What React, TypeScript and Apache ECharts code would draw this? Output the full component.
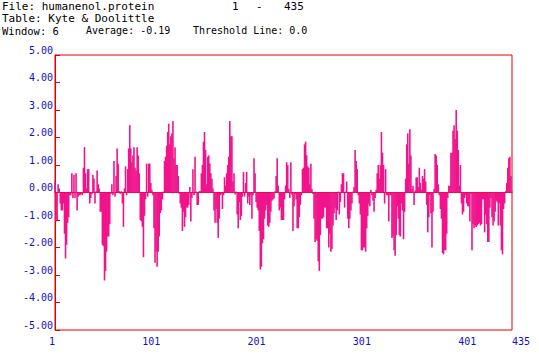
import React, { useEffect, useRef } from "react";
import * as echarts from "echarts";

// Kyte & Doolittle hydropathy, window 6, residues 1..435
const seg1 = [0.4, -1.05, -1.0, 0.3, 0.15, -0.4, -0.65, -0.65, -0.4, -1.5, -2.4, -1.9, -1.1, -0.9, -0.1, -0.1, 0.7, -0.2, 0.65, -0.2, 0.7, -0.65, -0.15, -0.1, -0.1, -0.05, -0.1, 0.9, 1.65, 0.7, 0.15, 0.85, 0.85, -0.4, -0.2, -0.05];
const seg2 = [0.65, 0.5, -0.4, 0.05, 0.8, 0.3, 0.15, -0.7, -0.7, -1.9, -1.95, -3.2, -2.85, -2.15, -1.6, -1.6, -1.15, -0.05, 0.3, -0.1, 1.15, -0.15, 0.6, 1.6, 1.05, 0.05, -0.05, 0.05, -0.4, -1.25, 0.15, 0.95, -0.1, 0.85, 1.6, 2.45, 1.6];
const seg3 = [1.1, 1.35, 1.65, 0.9, 0.8, 1.65, 1.35, 0.7, -1.0, -1.05, -1.25, -2.35, -0.85, -0.25, 1.05, -0.15, 1.05, 1.05, 0.35, 0.1, -0.1, -1.3, -2.55, -2.15, -2.7, -2.15, -1.6, -0.75, -0.65, -0.25, 0.0, 1.15, 1.3, 1.7, 2.2, 2.5, 1.75];
const seg4 = [2.05, 2.15, 2.6, 1.25, 1.65, 1.0, 1.0, 0.6, -0.05, -0.4, -0.55, -1.4, -0.7, -1.25, -0.9, -0.55, -0.55, -0.45, 0.2, -1.05, -0.2, 0.85, -0.1, 1.3, 0.0, -0.45, -0.45, 0.05, 0.05, 0.7, 1.0, 1.85, 2.2, 1.55, 0.3, 1.3, 1.35];
const seg5 = [1.05, 0.7, 0.5, 0.15, -0.65, -1.1, -0.6, -1.1, -1.65, -0.95, -0.1, -0.07, -0.6, -0.1, 0.55, 0.25, 0.7, 1.0, 1.3, 2.6, 2.05, 2.05, 0.4, 0.7, -0.07, 0.0, -0.8, -1.3, -0.35, -1.0, -0.85, -0.15, 0.75, -0.15, 0.35, 0.75, -0.4];
const seg6 = [-0.15, -0.45, -0.1, -0.95, -0.1, 1.25, 0.7, -0.35, -0.55, -0.65, -1.4, -2.8, -2.7, -1.85, -1.7, -0.95, -0.65, -0.45, -1.2, -1.25, -1.1, -0.7, -0.3, -0.25, -0.22, 0.05, 0.6, 1.25, 0.25, -0.65, -0.55, -1.0, -1.0, -1.0, -0.25, 0.25, 1.1];
const seg7 = [1.0, 0.13, -0.2, 1.1, -0.08, -1.4, -0.5, -0.05, -0.25, -1.3, -1.3, -0.9, -0.45, -0.1, 0.85, 0.9, 1.75, 1.85, 1.35, 0.95, 0.9, 0.3, 1.05, 0.13, -0.05, -0.95, -1.8, -1.7, -1.75, -2.5, -2.85, -1.55, -0.95, -0.95, -0.9, -0.55, -0.55];
const seg8 = [-1.3, -1.3, -2.0, -1.5, -2.15, -2.05, -1.2, -0.75, -0.55, -1.0, -0.65, 0.03, -0.8, -0.35, 0.3, 0.7, 0.7, -0.55, 0.0, 0.4, -0.95, -1.3, -0.95, -0.65, -0.4, 0.0, 0.2, 1.55, 1.15, 0.85, -0.1, -0.4, -0.8, -2.1, -2.1, -2.0, -2.0];
const seg9 = [-2.15, -1.3, -0.85, -0.4, -0.5, 0.1, -0.1, -0.3, -0.7, -0.2, 0.1, 0.7, 1.0, 0.5, 1.0, 2.2, 1.45, 1.0, -0.4, 0.85, -0.1, -0.1, -1.05, -0.1, -0.1, -1.65, -1.6, -2.1, -2.3, -1.55, -0.5, -0.95, -1.55, -1.6, -0.4, -0.65, -1.7];
const seg10 = [-0.7, 0.5, 1.75, 2.15, 1.05, 2.3, 1.35, 0.13, 0.25, -0.45, 0.07, 0.55, 0.55, 0.2, 0.9, 0.35, 0.1, 0.6, 0.5, 0.85, 0.4, -0.45, -1.45, -0.9, -0.1, -0.75, -2.0, -0.7, 0.13, 1.4, 1.35, 1.0, 0.3, -0.1, -0.6, -0.95, -2.2];
const seg11 = [-2.25, -2.1, -2.1, -1.5, -0.2, 0.25, 0.25, 1.45, 1.45, 2.25, 2.45, 1.95, 3.0, 2.25, 1.55, 0.25, 1.0, -0.4, -0.8, -0.7, -0.2, -0.1, -0.4, -0.5, -0.5, -1.05, -0.05, -2.1, -1.15, -1.3, -1.2, -1.25, -1.2, -1.15, -1.1, -1.2, -1.15];
const seg12 = [-0.25, -0.25, -1.45, -0.8, -1.15, -1.8, -1.8, -0.55, -0.2, -0.9, -1.2, -1.05, -0.7, -0.3, -0.35, -1.2, -0.4, -1.2, -2.1, -2.25, -0.6, -0.4, 0.05, 0.35, 0.9, 1.25, 1.3, 0.6, 0.0];

const hydropathy = [...seg1, ...seg2, ...seg3, ...seg4, ...seg5, ...seg6, ...seg7, ...seg8, ...seg9, ...seg10, ...seg11, ...seg12];

const firstResidue = 1;
const lastResidue = 435;
const yMin = -5;
const yMax = 5;

const headerFile = "File: humanenol.protein";
const headerRangeStart = "1";
const headerRangeDash = "-";
const headerRangeEnd = "435";
const headerTable = "Table: Kyte & Doolittle";
const headerWindow = "Window: 6";
const headerAverage = "Average: -0.19";
const headerThreshold = "Threshold Line: 0.0";

export default function App() {
  const ref = useRef<HTMLDivElement>(null);
  useEffect(() => {
    if (!ref.current) return;
    const chart = echarts.init(ref.current, undefined, { renderer: "svg" });
    const barData = hydropathy.map((v, i) => [i, v]);
    const font = "DejaVu Sans Mono";
    const blue = "#1010d0";
    const red = "#e00000";
    const t = (text: string, left: number, top: number, size: number) => ({
      type: "text",
      left,
      top,
      style: { text, font: `${size}px ${font}`, fill: "#000" },
    });
    chart.setOption({
      animation: false,
      backgroundColor: "#ffffff",
      grid: {
        left: 55,
        top: 55,
        width: 457,
        height: 275,
        show: true,
        borderColor: red,
        borderWidth: 1,
        backgroundColor: "transparent",
      },
      xAxis: {
        type: "value",
        min: 0,
        max: lastResidue - firstResidue,
        interval: 100,
        axisLine: { show: true, lineStyle: { color: red, width: 1 } },
        axisTick: { show: false },
        splitLine: { show: false },
        axisLabel: {
          color: blue,
          fontFamily: font,
          fontSize: 10,
          margin: 6,
          showMinLabel: true,
          showMaxLabel: true,
          align: "right",
          alignMinLabel: "right",
          alignMaxLabel: "left",
          formatter: (v: number) => String(v + firstResidue),
        },
      },
      yAxis: {
        type: "value",
        min: yMin,
        max: yMax,
        interval: 1,
        axisLine: { show: true, lineStyle: { color: red, width: 1 } },
        axisTick: { show: true, inside: true, length: 5, lineStyle: { color: red } },
        splitLine: { show: false },
        axisLabel: {
          color: blue,
          fontFamily: font,
          fontSize: 10,
          margin: 2,
          verticalAlign: "bottom",
          formatter: (v: number) => v.toFixed(2),
        },
      },
      series: [
        {
          type: "bar",
          data: barData,
          barWidth: 1.6,
          barMinHeight: 1,
          itemStyle: { color: "#f0148c" },
          z: 2,
        },
      ],
      graphic: [
        t(headerFile, 2, 1, 11),
        t(headerRangeStart, 232, 1, 11),
        t(headerRangeDash, 256, 1, 11),
        t(headerRangeEnd, 284, 1, 11),
        t(headerTable, 2, 13, 11),
        t(headerWindow, 2, 25, 10.5),
        t(headerAverage, 86, 25, 10),
        t(headerThreshold, 193, 25, 10),
      ],
    });
    return () => chart.dispose();
  }, []);
  return <div ref={ref} style={{ position: "fixed", left: 0, top: 0, width: 539, height: 358 }} />;
}
